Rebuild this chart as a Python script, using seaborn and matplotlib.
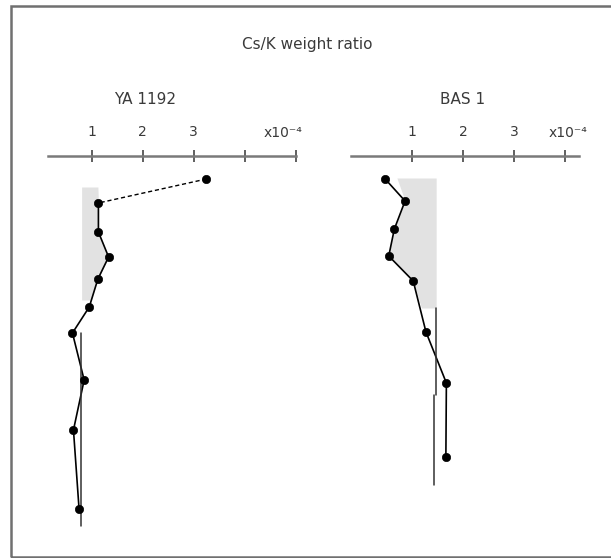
import matplotlib
matplotlib.use("Agg")
import matplotlib.pyplot as plt
import seaborn as sns
import pandas as pd
import numpy as np
from matplotlib.patches import Rectangle

# ---------------- data ----------------
title = "Cs/K weight ratio"
sample_names = ["YA 1192", "BAS 1"]
unit_label = "x10\u207b\u2074"

# YA 1192 : depth (arbitrary, top->bottom) and Cs/K (x10^-4)
ya_depth = [179, 203, 232, 257, 279, 307, 333, 380, 430, 509]
ya_csk = [3.25, 1.13, 1.13, 1.33, 1.12, 0.95, 0.62, 0.85, 0.64, 0.75]
ya_ref_depth = [333, 526]
ya_ref_csk = [0.78, 0.78]
ya_shade_depth = [187, 203, 232, 257, 279, 300]
ya_shade_hi = [1.12, 1.13, 1.13, 1.33, 1.12, 0.98]
ya_shade_lo = [0.80, 0.80, 0.80, 0.80, 0.80, 0.80]
ya_ticks = [1, 2, 3, 4, 5]
ya_ticklabels = ["1", "2", "3", "", ""]

# BAS 1
bas_depth = [179, 201, 229, 256, 281, 332, 383, 457]
bas_csk = [0.47, 0.86, 0.65, 0.54, 1.02, 1.27, 1.67, 1.66]
bas_ref1_depth = [308, 395]
bas_ref1_csk = [1.47, 1.47]
bas_ref2_depth = [395, 485]
bas_ref2_csk = [1.42, 1.42]
bas_shade_depth = [178, 201, 229, 256, 281, 308]
bas_shade_lo = [0.70, 0.86, 0.65, 0.54, 1.02, 1.18]
bas_shade_hi = [1.47, 1.47, 1.47, 1.47, 1.47, 1.47]
bas_ticks = [1, 2, 3, 4]
bas_ticklabels = ["1", "2", "3", ""]

# ---------------- figure ----------------
sns.set_theme(style="white")
plt.rcParams["font.family"] = ["DejaVu Sans"]
W, H = 611, 558
fig = plt.figure(figsize=(W / 100, H / 100), dpi=100)
fig.patch.set_facecolor("white")

txt = "#3a3a3a"
line_gray = "#7a7a7a"

def ax_at(x0, x1, y0, y1):
    return fig.add_axes([x0 / W, 1 - y1 / H, (x1 - x0) / W, (y1 - y0) / H])

# frame around figure
fig.add_artist(Rectangle((11 / W, 1 - 557 / H), (W + 10) / W, (557 - 6) / H,
                         transform=fig.transFigure, fill=False,
                         edgecolor="#707070", linewidth=1.8))

ax1 = ax_at(48, 295.5, 156, 545)
ax2 = ax_at(351, 579, 156, 545)

def style_axis(ax, xlim, ticks, labels):
    ax.set_xlim(*xlim)
    ax.set_ylim(545, 156)
    for s in ["left", "right", "bottom"]:
        ax.spines[s].set_visible(False)
    ax.spines["top"].set_color(line_gray)
    ax.spines["top"].set_linewidth(1.8)
    ax.xaxis.tick_top()
    ax.set_xticks(ticks)
    ax.set_xticklabels(labels)
    ax.tick_params(axis="x", direction="inout", length=9, width=1.2,
                   color="#444444", labelsize=10, labelcolor=txt, pad=8)
    ax.set_yticks([])
    ax.set_xlabel("")
    ax.set_ylabel("")
    ax.set_facecolor("none")

# --- YA 1192 ---
ax1.fill_betweenx(ya_shade_depth, ya_shade_lo, ya_shade_hi, color="#e2e2e2", lw=0)
df_ya = pd.DataFrame({"csk": ya_csk, "depth": ya_depth})
sns.lineplot(data=df_ya.iloc[:2], x="csk", y="depth", sort=False, ax=ax1,
             color="black", lw=1.0, linestyle=(0, (3, 2)), estimator=None)
sns.lineplot(data=df_ya.iloc[1:], x="csk", y="depth", sort=False, ax=ax1,
             color="black", lw=1.2, estimator=None)
sns.lineplot(x=ya_ref_csk, y=ya_ref_depth, sort=False, ax=ax1,
             color="#333333", lw=1.1, estimator=None)
sns.scatterplot(data=df_ya, x="csk", y="depth", ax=ax1, color="black",
                s=36, edgecolor="black", zorder=5)
style_axis(ax1, (0.14, 5.0), ya_ticks, ya_ticklabels)

# --- BAS 1 ---
ax2.fill_betweenx(bas_shade_depth, bas_shade_lo, bas_shade_hi, color="#e2e2e2", lw=0)
df_bas = pd.DataFrame({"csk": bas_csk, "depth": bas_depth})
sns.lineplot(data=df_bas, x="csk", y="depth", sort=False, ax=ax2,
             color="black", lw=1.2, estimator=None)
sns.lineplot(x=bas_ref1_csk, y=bas_ref1_depth, sort=False, ax=ax2,
             color="#333333", lw=1.1, estimator=None)
sns.lineplot(x=bas_ref2_csk, y=bas_ref2_depth, sort=False, ax=ax2,
             color="#333333", lw=1.1, estimator=None)
sns.scatterplot(data=df_bas, x="csk", y="depth", ax=ax2, color="black",
                s=36, edgecolor="black", zorder=5)
style_axis(ax2, (-0.2, 4.27), bas_ticks, bas_ticklabels)

# unit labels
off = 1.0 + 16 / (545 - 156)
ax1.text(4.75, off, unit_label, transform=ax1.get_xaxis_transform(),
         ha="center", va="bottom", fontsize=10, color=txt)
ax2.text(4.05, off, unit_label, transform=ax2.get_xaxis_transform(),
         ha="center", va="bottom", fontsize=10, color=txt)

# sample names and title
fig.text(145 / W, 1 - 100 / H, sample_names[0], ha="center", va="center",
         fontsize=11, color=txt)
fig.text(463 / W, 1 - 100 / H, sample_names[1], ha="center", va="center",
         fontsize=11, color=txt)
fig.text(307 / W, 1 - 45 / H, title, ha="center", va="center",
         fontsize=11, color=txt)

fig.savefig("out.png", dpi=100, facecolor="white")
